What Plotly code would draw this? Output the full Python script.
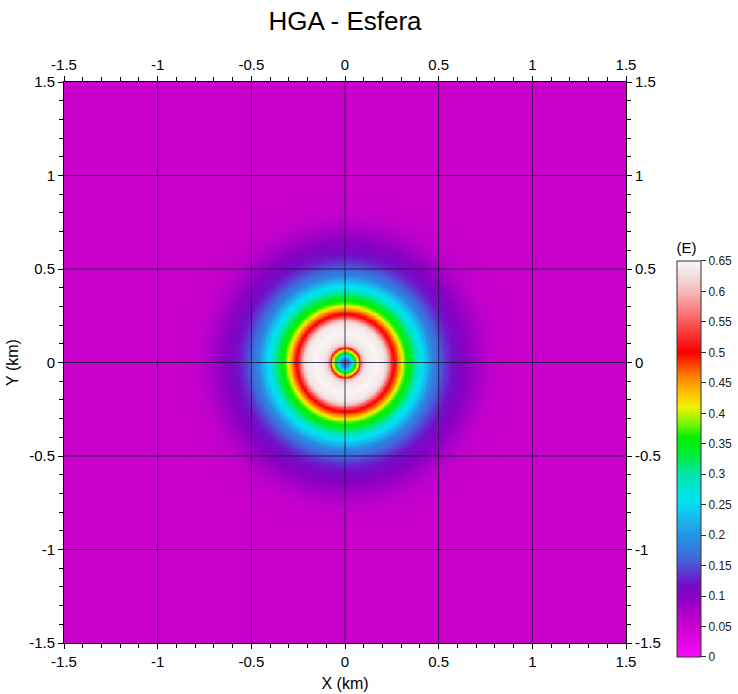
import numpy as np
import plotly.graph_objects as go

# --- text -------------------------------------------------------------
title_text = "HGA - Esfera"
x_label = "X (km)"
y_label = "Y (km)"
cbar_title = "(E)"

# --- axis ticks ------------------------------------------------------
axis_ticks = [-1.5, -1.0, -0.5, 0.0, 0.5, 1.0, 1.5]
axis_tick_text = ["-1.5", "-1", "-0.5", "0", "0.5", "1", "1.5"]
grid_lines = [-1.0, -0.5, 0.0, 0.5, 1.0]

cbar_ticks = [0, 0.05, 0.1, 0.15, 0.2, 0.25, 0.3, 0.35, 0.4, 0.45, 0.5, 0.55, 0.6, 0.65]
cbar_tick_text = ["0", "0.05", "0.1", "0.15", "0.2", "0.25", "0.3", "0.35",
                  "0.4", "0.45", "0.5", "0.55", "0.6", "0.65"]

# --- radial HGA profile around the sphere's epicentre (km -> E) -------
profile_r = [0.000, 0.015, 0.025, 0.037, 0.053, 0.063, 0.070, 0.078, 0.085,
             0.095, 0.115, 0.160, 0.205, 0.222, 0.238, 0.255, 0.278, 0.297,
             0.317, 0.355, 0.375, 0.405, 0.440, 0.470, 0.510, 0.530, 0.560,
             0.620, 0.670, 0.720, 0.770, 0.850, 1.000, 2.200]
profile_hga = [0.130, 0.170, 0.210, 0.260, 0.350, 0.400, 0.440, 0.500, 0.570,
               0.610, 0.635, 0.648, 0.635, 0.610, 0.560, 0.510, 0.470, 0.425,
               0.375, 0.330, 0.300, 0.260, 0.220, 0.180, 0.155, 0.140, 0.125,
               0.105, 0.090, 0.075, 0.060, 0.052, 0.050, 0.050]

# --- colour table (E value -> colour) -------------------------------
z_min, z_max = 0.0, 0.65
color_levels = [0.00, 0.05, 0.08, 0.10, 0.12, 0.14, 0.165, 0.20, 0.22, 0.255,
                0.30, 0.33, 0.36, 0.385, 0.41, 0.43, 0.46, 0.50, 0.55, 0.60,
                0.625, 0.65]
color_values = ["rgb(250,10,250)", "rgb(202,0,204)", "rgb(165,0,200)",
                "rgb(135,0,195)", "rgb(115,15,200)", "rgb(90,60,210)",
                "rgb(60,110,220)", "rgb(35,150,230)", "rgb(30,175,235)",
                "rgb(0,225,245)", "rgb(0,230,170)", "rgb(0,235,60)",
                "rgb(0,240,0)", "rgb(130,245,0)", "rgb(240,240,0)",
                "rgb(255,200,0)", "rgb(255,130,0)", "rgb(250,0,0)",
                "rgb(250,90,90)", "rgb(248,185,185)", "rgb(240,222,222)",
                "rgb(250,246,246)"]
colorscale = [[(v - z_min) / (z_max - z_min), c] for v, c in zip(color_levels, color_values)]

# --- gridded field --------------------------------------------------
xs = np.linspace(-1.5, 1.5, 401)
ys = np.linspace(-1.5, 1.5, 401)
XX, YY = np.meshgrid(xs, ys)
RR = np.hypot(XX, YY)
field = np.interp(RR, profile_r, profile_hga)

font_family = "Liberation Sans, Arial, sans-serif"

fig = go.Figure()
fig.add_trace(go.Heatmap(
    x=xs, y=ys, z=field,
    zmin=z_min, zmax=z_max, zsmooth="best",
    colorscale=colorscale,
    hoverinfo="skip",
    colorbar=dict(
        title=dict(text=cbar_title, side="top", font=dict(size=15, color="black")),
        tickvals=cbar_ticks, ticktext=cbar_tick_text,
        tickfont=dict(size=12, color="#222"),
        ticks="outside", ticklen=5, tickcolor="#333",
        outlinecolor="#333", outlinewidth=1,
        thickness=24, lenmode="pixels", len=418,
        x=1.0907, xanchor="left", y=0.3476, yanchor="middle",
        xpad=0, ypad=0,
    ),
))
# companion trace for the top/right axes
fig.add_trace(go.Scatter(x=[None], y=[None], xaxis="x2", yaxis="y2",
                         showlegend=False, hoverinfo="skip"))

common_axis = dict(
    range=[-1.5, 1.5],
    tickmode="array", tickvals=axis_ticks, ticktext=axis_tick_text,
    ticks="outside", ticklen=5, tickwidth=1, tickcolor="black",
    tickfont=dict(size=15, color="black"),
    showline=True, linecolor="black", linewidth=1,
    showgrid=False, zeroline=False,
    minor=dict(ticks="outside", ticklen=4, tickcolor="black", dtick=0.1, tick0=0,
               showgrid=False),
)

grid_shapes = []
for g in grid_lines:
    grid_shapes.append(dict(type="line", xref="x", yref="y", x0=g, x1=g, y0=-1.5, y1=1.5,
                            line=dict(color="rgba(25,25,60,0.85)", width=1), layer="above"))
    grid_shapes.append(dict(type="line", xref="x", yref="y", y0=g, y1=g, x0=-1.5, x1=1.5,
                            line=dict(color="rgba(25,25,60,0.85)", width=1), layer="above"))

fig.update_layout(
    width=738, height=694, autosize=False,
    margin=dict(l=64, r=112, t=82, b=51, autoexpand=False),
    paper_bgcolor="white", plot_bgcolor="white",
    font=dict(family=font_family, color="black"),
    title=dict(text=title_text, x=0.5, xref="paper", xanchor="center",
               y=1 - 21 / 694, yref="container", yanchor="middle",
               font=dict(size=26, color="black")),
    xaxis=dict(common_axis, side="bottom",
               title=dict(text=x_label, font=dict(size=16), standoff=8)),
    yaxis=dict(common_axis, side="left",
               title=dict(text=y_label, font=dict(size=16), standoff=6)),
    xaxis2=dict(common_axis, side="top", overlaying="x", matches="x"),
    yaxis2=dict(common_axis, side="right", overlaying="y", matches="y"),
    shapes=grid_shapes,
    showlegend=False,
)

fig.write_html("out.html")
